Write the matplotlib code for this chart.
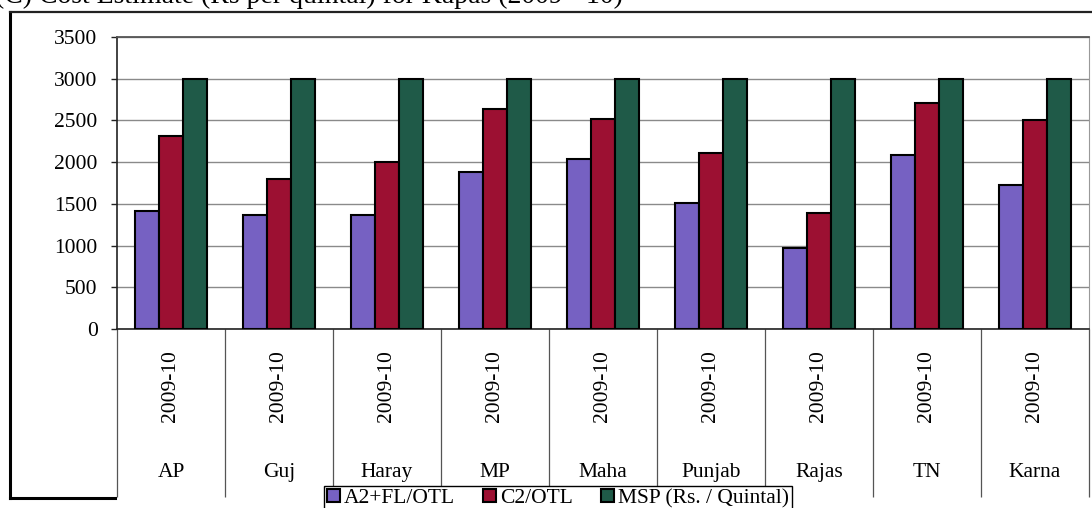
import matplotlib
matplotlib.use("Agg")
import matplotlib.pyplot as plt
import matplotlib.transforms as mtransforms
from matplotlib.lines import Line2D
import numpy as np

states = ["AP", "Guj", "Haray", "MP", "Maha", "Punjab", "Rajas", "TN", "Karna"]
year_label = "2009-10"
a2_fl = [1410, 1370, 1370, 1880, 2040, 1510, 965, 2090, 1725]
c2 = [2315, 1800, 2000, 2640, 2520, 2105, 1395, 2710, 2505]
msp = [3000, 3000, 3000, 3000, 3000, 3000, 3000, 3000, 3000]
series_names = ["A2+FL/OTL", "C2/OTL", "MSP (Rs. / Quintal)"]
colors = ["#7661c2", "#9c1032", "#1f5a48"]
yticks = [0, 500, 1000, 1500, 2000, 2500, 3000, 3500]

plt.rcParams["font.family"] = ["Liberation Serif", "DejaVu Serif"]
FS = 15.5

W, H = 1092, 508
fig = plt.figure(figsize=(W / 100, H / 100), dpi=100)
ax = fig.add_axes([117 / W, 1 - 329 / H, 972 / W, 292 / H])

n = len(states)
x = np.arange(n) + 0.5
bw = 1 / 4.5
for i, vals in enumerate([a2_fl, c2, msp]):
    ax.bar(x + (i - 1) * bw, vals, width=bw, color=colors[i], edgecolor="black",
           linewidth=1.5, label=series_names[i], zorder=3)

ax.set_xlim(0, n)
ax.set_ylim(0, 3500)
ax.set_yticks(yticks)
ax.set_yticklabels([str(v) for v in yticks], fontsize=FS)
ax.tick_params(axis="y", length=4, width=1, pad=10, colors="#222222")
ax.tick_params(axis="y", labelcolor="black")
ax.grid(axis="y", color="#8a8a8a", linewidth=1.0, zorder=0)

# category dividers drawn as long minor ticks below the axis
ax.set_xticks([])
ax.set_xticks(np.arange(n + 1), minor=True)
ax.tick_params(axis="x", which="minor", length=121, width=0.9, color="#555555",
               direction="out", labelbottom=False)

for s in ["left", "bottom"]:
    ax.spines[s].set_color("#222222")
    ax.spines[s].set_linewidth(1.2)
ax.spines["right"].set_color("#999999")
ax.spines["top"].set_color("#555555")
ax.spines["top"].set_linewidth(1.3)

trans = mtransforms.blended_transform_factory(ax.transData, ax.transAxes)
for xi, st in zip(x, states):
    ax.text(xi, -0.195, year_label, rotation=90, ha="center", va="center",
            fontsize=FS, transform=trans)
    ax.text(xi, -0.493, st, ha="center", va="center", fontsize=FS, transform=trans)

# outer chart frame and the caption that is clipped at the top edge
fig.add_artist(Line2D([10 / W, 10 / W], [1 - 12 / H, 1 - 498 / H], color="black",
                      linewidth=2.2, transform=fig.transFigure))
fig.add_artist(Line2D([10 / W, 1.0], [1 - 12 / H, 1 - 12 / H], color="#222222",
                      linewidth=1.6, transform=fig.transFigure))
fig.add_artist(Line2D([10 / W, 115 / W], [1 - 498 / H, 1 - 498 / H], color="black",
                      linewidth=2.2, transform=fig.transFigure))
fig.text(-5 / W, 1 + 4 / H, "(C) Cost Estimate (Rs per quintal) for Kapas (2009 - 10)",
         ha="left", va="center", fontsize=20)

leg = fig.legend(*ax.get_legend_handles_labels(), loc="upper left",
                 bbox_to_anchor=(324 / W, 1 - 486 / H), ncol=3, fontsize=FS,
                 frameon=True, fancybox=False, edgecolor="black", facecolor="white",
                 framealpha=1, handlelength=0.6, handleheight=0.6,
                 handletextpad=0.2, columnspacing=1.3, borderpad=0.12,
                 borderaxespad=0)
leg.get_frame().set_linewidth(1.0)
leg.set_zorder(10)

fig.savefig("out.png", dpi=100, facecolor="white")
